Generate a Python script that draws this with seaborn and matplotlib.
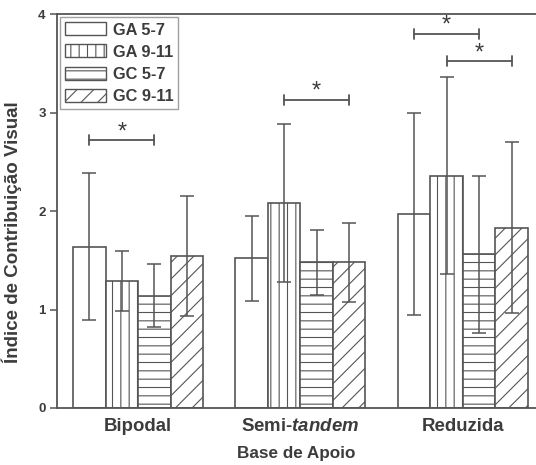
import pandas as pd
import matplotlib
matplotlib.use("Agg")
import matplotlib.pyplot as plt
from matplotlib.patches import Patch
import seaborn as sns

# Data
bases = ["Bipodal", "Semi-tandem", "Reduzida"]
grupos = ["GA 5-7", "GA 9-11", "GC 5-7", "GC 9-11"]

media_ga57 = [1.64, 1.52, 1.97]
media_ga911 = [1.29, 2.08, 2.36]
media_gc57 = [1.14, 1.48, 1.56]
media_gc911 = [1.54, 1.48, 1.83]

dp_ga57 = [0.75, 0.43, 1.03]
dp_ga911 = [0.30, 0.80, 1.00]
dp_gc57 = [0.32, 0.33, 0.80]
dp_gc911 = [0.61, 0.40, 0.87]

# significance brackets: (base index, group a, group b, height)
sig_base = [0, 1, 2, 2]
sig_a = [0, 1, 0, 1]
sig_b = [2, 3, 2, 3]
sig_y = [2.72, 3.13, 3.80, 3.52]

medias = [media_ga57, media_ga911, media_gc57, media_gc911]
dps = [dp_ga57, dp_ga911, dp_gc57, dp_gc911]

df = pd.DataFrame({
    "Base": [b for g in grupos for b in bases],
    "Grupo": [g for g in grupos for b in bases],
    "Media": [v for m in medias for v in m],
    "DP": [v for d in dps for v in d],
})

sns.set_style("white")
plt.rcParams["font.family"] = ["Liberation Sans", "DejaVu Sans"]
plt.rcParams["font.weight"] = "bold"
plt.rcParams["axes.labelweight"] = "bold"
plt.rcParams["mathtext.fontset"] = "custom"
plt.rcParams["mathtext.bfit"] = "Liberation Sans:bold:italic"
plt.rcParams["hatch.linewidth"] = 0.8

line_c = "#555555"
text_c = "#3c3c3c"
hatches = ["", "||", "--", "//"]

fig = plt.figure(figsize=(5.36, 4.65), dpi=100)
ax = fig.add_axes([0.106, 0.1226, 0.894, 0.847])

sns.barplot(data=df, x="Base", y="Media", hue="Grupo", order=bases,
            hue_order=grupos, errorbar=None, palette=["white"] * 4,
            saturation=1, edgecolor=line_c, linewidth=1.2, legend=False,
            ax=ax)

bar_conts = list(ax.containers)
centers = []
for i, cont in enumerate(bar_conts):
    xs = []
    for bar in cont.patches:
        bar.set_facecolor("white")
        bar.set_hatch(hatches[i])
        xs.append(bar.get_x() + bar.get_width() / 2)
    centers.append(xs)

for i in range(len(grupos)):
    ax.errorbar(centers[i], medias[i], yerr=dps[i], fmt="none", ecolor=line_c,
                elinewidth=1.1, capsize=5, capthick=1.1, zorder=3)

# significance brackets
for b, ga, gb, y in zip(sig_base, sig_a, sig_b, sig_y):
    x1, x2 = centers[ga][b], centers[gb][b]
    ax.plot([x1, x2], [y, y], color=line_c, lw=1.3)
    ax.plot([x1, x1], [y - 0.05, y + 0.05], color=line_c, lw=1.3)
    ax.plot([x2, x2], [y - 0.05, y + 0.05], color=line_c, lw=1.3)
    ax.text((x1 + x2) / 2, y - 0.03, "*", ha="center", va="bottom",
            fontsize=17, color=text_c, fontweight="normal")

ax.set_ylim(0, 4)
ax.set_xlim(-0.5, 2.45)
ax.set_yticks([0, 1, 2, 3, 4])
ax.set_yticklabels(["0", "1", "2", "3", "4"], fontsize=9.5, color=text_c)
ax.set_xticks([0, 1, 2])
ax.set_xticklabels(["Bipodal", r"Semi-$\mathbfit{tandem}$", "Reduzida"],
                   fontsize=13.4, color=text_c)
ax.tick_params(axis="y", direction="out", length=5, width=1.1, color=line_c,
               left=True, pad=3)
ax.tick_params(axis="x", length=0, pad=7)

ax.set_xlabel("Base de Apoio", fontsize=12.3, color=text_c, labelpad=8)
ax.set_ylabel("Índice de Contribuição Visual", fontsize=13.5, color=text_c)
ax.yaxis.set_label_coords(-0.072, 0.447)

for s in ["left", "top", "bottom"]:
    ax.spines[s].set_color(line_c)
    ax.spines[s].set_linewidth(1.3)
ax.spines["right"].set_visible(False)

handles = [Patch(facecolor="white", edgecolor=line_c, hatch=h, lw=1.0)
           for h in hatches]
leg = ax.legend(handles, grupos, loc="upper left", fontsize=11.8,
                frameon=True, fancybox=False, edgecolor="#888888",
                handlelength=2.5, handleheight=0.85, labelspacing=0.42,
                handletextpad=0.4, borderaxespad=0.2, borderpad=0.3)
for t in leg.get_texts():
    t.set_color(text_c)
leg.get_frame().set_linewidth(1.0)

fig.savefig("out.png", dpi=100)
